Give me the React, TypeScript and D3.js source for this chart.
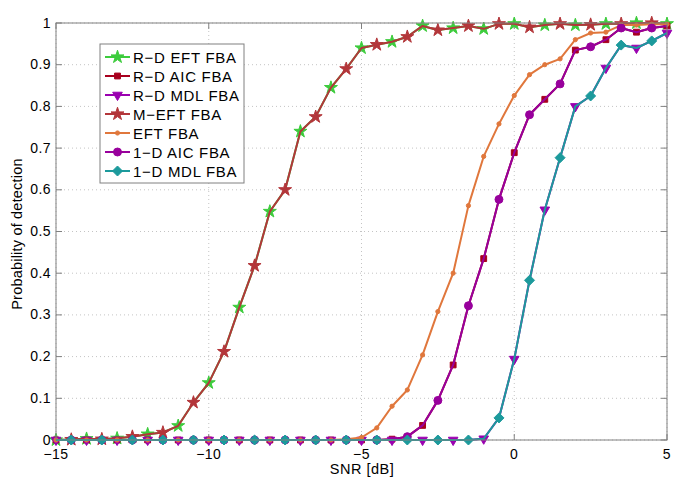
import React from 'react';
import * as d3 from 'd3';

// SNR grid (dB)
const snr = [-15, -14.5, -14, -13.5, -13, -12.5, -12, -11.5, -11, -10.5, -10, -9.5, -9, -8.5, -8, -7.5, -7, -6.5, -6, -5.5, -5, -4.5, -4, -3.5, -3, -2.5, -2, -1.5, -1, -0.5, 0, 0.5, 1, 1.5, 2, 2.5, 3, 3.5, 4, 4.5, 5];

// Series values (probability of detection at each SNR)
const rdEft = [0, 0.001, 0.003, 0.002, 0.004, 0.008, 0.014, 0.018, 0.034, 0.09, 0.137, 0.212, 0.318, 0.418, 0.548, 0.6, 0.74, 0.775, 0.845, 0.89, 0.94, 0.948, 0.955, 0.967, 0.993, 0.983, 0.988, 0.993, 0.986, 0.998, 0.998, 0.99, 0.995, 0.998, 0.995, 0.996, 0.998, 0.998, 1.0, 1.0, 0.998];
const rdAic = [0, 0, 0, 0, 0, 0, 0, 0, 0, 0, 0, 0, 0, 0, 0, 0, 0, 0, 0, 0, 0, 0, 0.002, 0.008, 0.035, 0.095, 0.18, 0.322, 0.435, 0.577, 0.689, 0.78, 0.817, 0.854, 0.935, 0.943, 0.96, 0.988, 0.978, 0.988, 0.993];
const rdMdl = [0, 0, 0, 0, 0, 0, 0, 0, 0, 0, 0, 0, 0, 0, 0, 0, 0, 0, 0, 0, 0, 0, 0, 0, 0, 0, 0, 0, 0.003, 0.053, 0.194, 0.383, 0.552, 0.677, 0.8, 0.825, 0.892, 0.947, 0.94, 0.957, 0.976];
const mEft = [0, 0.001, 0.003, 0.002, 0.004, 0.008, 0.014, 0.018, 0.034, 0.09, 0.137, 0.212, 0.318, 0.418, 0.548, 0.6, 0.74, 0.775, 0.845, 0.89, 0.94, 0.948, 0.955, 0.967, 0.993, 0.983, 0.988, 0.993, 0.986, 0.998, 0.998, 0.99, 0.995, 0.998, 0.995, 0.996, 0.998, 0.998, 1.0, 1.0, 0.998];
const eft = [0, 0, 0, 0, 0, 0, 0, 0, 0, 0, 0, 0, 0, 0, 0, 0, 0, 0, 0, 0.002, 0.006, 0.029, 0.081, 0.12, 0.204, 0.308, 0.4, 0.562, 0.68, 0.758, 0.826, 0.876, 0.9, 0.914, 0.96, 0.976, 0.978, 0.995, 0.995, 0.997, 0.997];
const oneDAic = [0, 0, 0, 0, 0, 0, 0, 0, 0, 0, 0, 0, 0, 0, 0, 0, 0, 0, 0, 0, 0, 0, 0.002, 0.008, 0.035, 0.095, 0.18, 0.322, 0.435, 0.577, 0.689, 0.78, 0.817, 0.854, 0.935, 0.943, 0.96, 0.988, 0.978, 0.988, 0.993];
const oneDMdl = [0, 0, 0, 0, 0, 0, 0, 0, 0, 0, 0, 0, 0, 0, 0, 0, 0, 0, 0, 0, 0, 0, 0, 0, 0, 0, 0, 0, 0.003, 0.053, 0.194, 0.383, 0.552, 0.677, 0.8, 0.825, 0.892, 0.947, 0.94, 0.957, 0.976];

const xTicks = [-15, -10, -5, 0, 5];
const xTickLabels = ['\u221215', '\u221210', '\u22125', '0', '5'];
const yTicks = [0, 0.1, 0.2, 0.3, 0.4, 0.5, 0.6, 0.7, 0.8, 0.9, 1];
const yTickLabels = ['0', '0.1', '0.2', '0.3', '0.4', '0.5', '0.6', '0.7', '0.8', '0.9', '1'];

type Marker = 'star' | 'square' | 'triDown' | 'circle' | 'dot' | 'diamond';

// markers: 'even' = integer SNR points, 'odd' = half-integer points
const seriesList: { name: string; ys: number[]; color: string; marker: Marker; every: 'all' | 'odd' | 'even' }[] = [
  { name: 'R\u2212D EFT FBA', ys: rdEft, color: '#3ccc3c', marker: 'star', every: 'even' },
  { name: 'R\u2212D AIC FBA', ys: rdAic, color: '#a8001e', marker: 'square', every: 'even' },
  { name: 'R\u2212D MDL FBA', ys: rdMdl, color: '#9a00b0', marker: 'triDown', every: 'even' },
  { name: 'M\u2212EFT FBA', ys: mEft, color: '#b3363a', marker: 'star', every: 'odd' },
  { name: 'EFT FBA', ys: eft, color: '#e0773c', marker: 'dot', every: 'all' },
  { name: '1\u2212D AIC FBA', ys: oneDAic, color: '#98009c', marker: 'circle', every: 'odd' },
  { name: '1\u2212D MDL FBA', ys: oneDMdl, color: '#1c9a9c', marker: 'diamond', every: 'odd' },
];

const W = 685;
const H = 483;
const L = 56, R = 667, T = 23, B = 440;
const FONT = '"Liberation Sans", Arial, Helvetica, sans-serif';

function markerPath(m: Marker): string {
  switch (m) {
    case 'star': return d3.symbol(d3.symbolStar, 52)() as string;
    case 'square': return d3.symbol(d3.symbolSquare, 34)() as string;
    case 'triDown': return d3.symbol(d3.symbolTriangle, 40)() as string;
    case 'circle': return d3.symbol(d3.symbolCircle, 50)() as string;
    case 'dot': return d3.symbol(d3.symbolCircle, 14)() as string;
    case 'diamond': return 'M0,-5L5,0L0,5L-5,0Z';
  }
}

function MarkerShape({ m, x, y, color }: { m: Marker; x: number; y: number; color: string }) {
  const rot = m === 'triDown' ? ' rotate(180)' : '';
  return <path d={markerPath(m)} transform={`translate(${x},${y})${rot}`} fill={color} stroke={color} strokeWidth={1} />;
}

export default function App() {
  const x = d3.scaleLinear().domain([-15, 5]).range([L, R]);
  const y = d3.scaleLinear().domain([0, 1]).range([B, T]);
  const line = d3.line<[number, number]>().x(d => x(d[0])).y(d => y(d[1]));

  const legendX = 100, legendY = 44, legendW = 144, legendH = 139;
  const show = (every: string, i: number) => every === 'all' || (every === 'odd' ? i % 2 === 1 : i % 2 === 0);

  return (
    <svg width={W} height={H} style={{ position: 'absolute', left: 0, top: 0, display: 'block', background: '#fff' }} fontFamily={FONT}>
      <rect x={0} y={0} width={W} height={H} fill="#fff" />
      {/* grid */}
      {xTicks.map((t, i) => (
        <line key={'gx' + i} x1={x(t)} x2={x(t)} y1={T} y2={B} stroke="#c4c4c4" strokeWidth={1} strokeDasharray="1,3" />
      ))}
      {yTicks.map((t, i) => (
        <line key={'gy' + i} x1={L} x2={R} y1={y(t)} y2={y(t)} stroke="#c4c4c4" strokeWidth={1} strokeDasharray="1,3" />
      ))}
      {/* ticks */}
      {xTicks.map((t, i) => (
        <g key={'tx' + i}>
          <line x1={x(t)} x2={x(t)} y1={B} y2={B - 6} stroke="#808080" />
          <line x1={x(t)} x2={x(t)} y1={T} y2={T + 6} stroke="#808080" />
        </g>
      ))}
      {yTicks.map((t, i) => (
        <g key={'ty' + i}>
          <line x1={L} x2={L + 6} y1={y(t)} y2={y(t)} stroke="#808080" />
          <line x1={R} x2={R - 6} y1={y(t)} y2={y(t)} stroke="#808080" />
        </g>
      ))}
      {/* series */}
      {seriesList.map((s, si) => {
        const pts = snr.map((v, i) => [v, s.ys[i]] as [number, number]);
        return (
          <g key={'s' + si}>
            <path d={line(pts) as string} fill="none" stroke={s.color} strokeWidth={2} strokeLinejoin="round" />
            {pts.map((p, i) => show(s.every, i) ? (
              <MarkerShape key={i} m={s.marker} x={x(p[0])} y={y(p[1])} color={s.color} />
            ) : null)}
          </g>
        );
      })}
      {/* frame */}
      <rect x={L} y={T} width={R - L} height={B - T} fill="none" stroke="#808080" strokeWidth={1} />
      {/* tick labels */}
      {xTicks.map((t, i) => (
        <text key={'lx' + i} x={x(t)} y={458.5} textAnchor="middle" fontSize={14} letterSpacing={0.5} fill="#000">{xTickLabels[i]}</text>
      ))}
      {yTicks.map((t, i) => (
        <text key={'ly' + i} x={51} y={y(t) + 4.5} textAnchor="end" fontSize={14} letterSpacing={0.4} fill="#000">{yTickLabels[i]}</text>
      ))}
      <text x={362} y={474} textAnchor="middle" fontSize={14.5} letterSpacing={0.5} fill="#000">SNR [dB]</text>
      <text transform={`translate(22,234) rotate(-90)`} textAnchor="middle" fontSize={14.5} letterSpacing={0.2} fill="#000">Probability of detection</text>
      {/* legend */}
      <rect x={legendX} y={legendY} width={legendW} height={legendH} fill="#fff" stroke="#808080" strokeWidth={1} />
      {seriesList.map((s, i) => {
        const cy = 57 + i * 19;
        return (
          <g key={'lg' + i}>
            <line x1={105} x2={130} y1={cy} y2={cy} stroke={s.color} strokeWidth={2} />
            <MarkerShape m={s.marker} x={117.5} y={cy} color={s.color} />
            <text x={133} y={cy + 5.5} fontSize={15} letterSpacing={0.7} fill="#000">{s.name}</text>
          </g>
        );
      })}
    </svg>
  );
}
